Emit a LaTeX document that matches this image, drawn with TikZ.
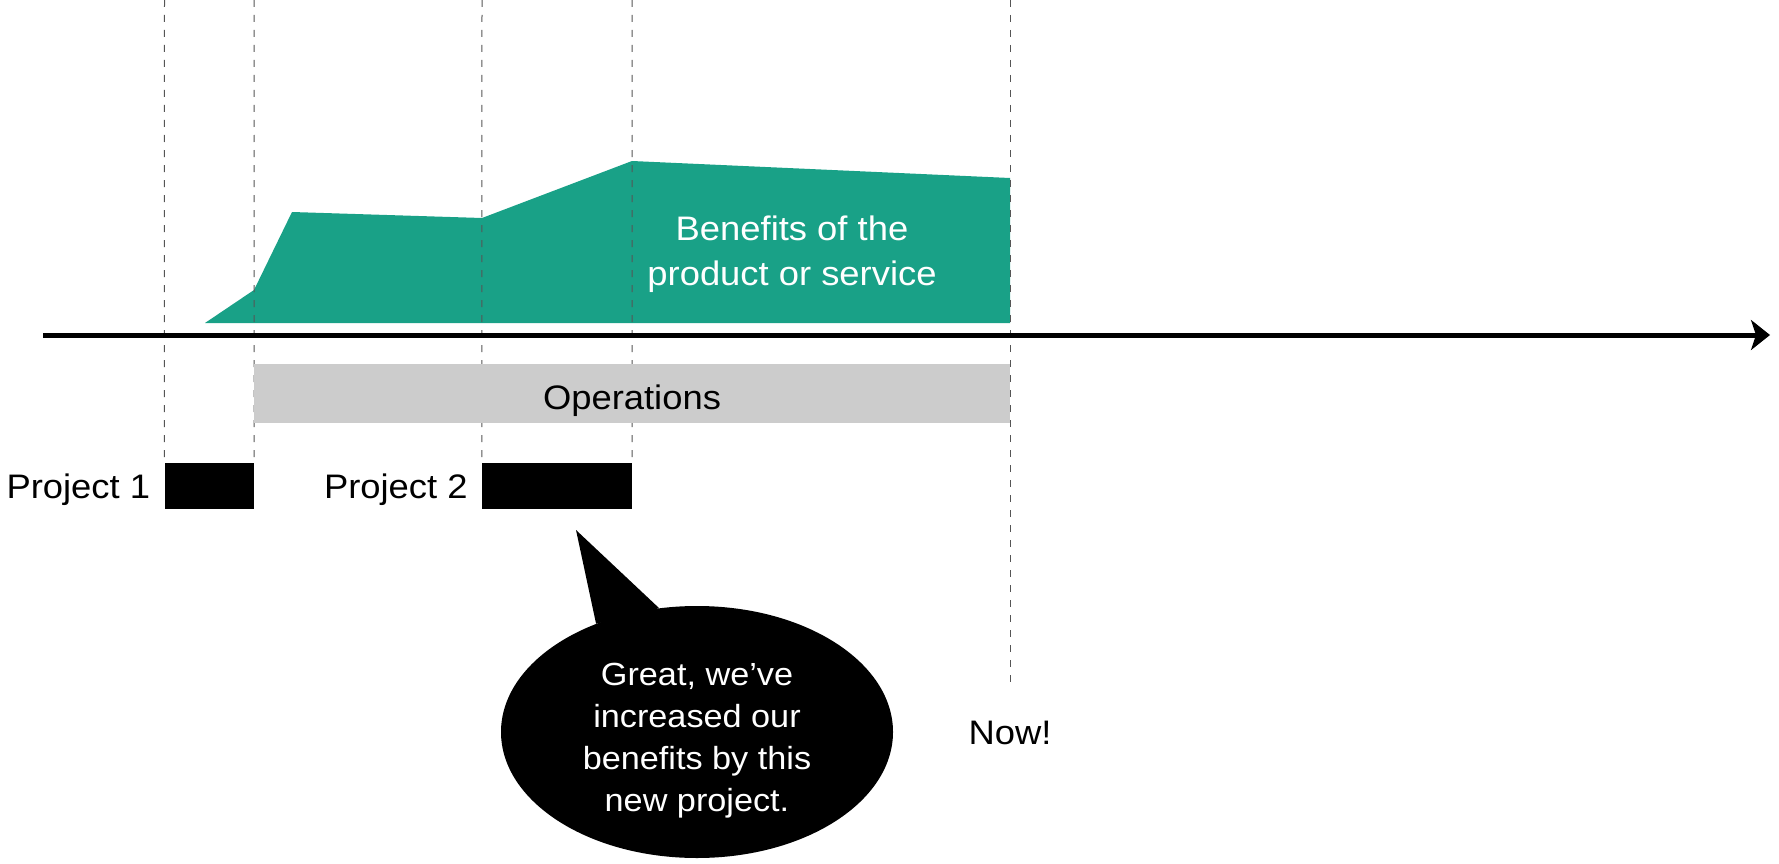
\documentclass[tikz,border=0pt]{standalone}
\usepackage{fontspec}
\setmainfont{Liberation Sans}[FakeStretch=1.07]
\usetikzlibrary{arrows.meta,positioning,shapes.geometric}
\definecolor{benefitgreen}{HTML}{19A187}
\definecolor{opsgray}{HTML}{CCCCCC}
\definecolor{guidegray}{HTML}{555555}
\tikzset{
  guide/.style={guidegray, line width=1pt, dash pattern=on 7pt off 8pt},
  projbox/.style={fill=black, minimum height=46pt, inner sep=0pt},
  projlabel/.style={inner sep=0pt, text depth=0pt, left=14pt of #1},
  timeline/.style={line width=5pt, -{Stealth[length=19pt,width=30pt,inset=5pt]}}
}
\begin{document}
\begin{tikzpicture}[x=1pt, y=-1pt, font=\fontsize{34}{45}\selectfont]
        \useasboundingbox (0,0) rectangle (1779,864);

        % Benefits
        \fill[benefitgreen] (205,323) -- (254,290) -- (292,212) -- (482,218)
            -- (632,161) -- (1010,178) -- (1010,323) -- cycle;
        \node[white, align=center] (benefits) at (792,254) {Benefits of the\\product or service};

        % Projects
        \node[projbox, minimum width=89.5pt] (proj1) at (209.25,486) {};
        \node[projbox, minimum width=150pt] (proj2) at (557,486) {};
        \node[projlabel=proj1] (lab1) {Project 1};
        \node[projlabel=proj2] (lab2) {Project 2};

        % Guides
        \coordinate (top1) at (164.5,0);
        \coordinate (top2) at (254,0);
        \coordinate (top3) at (482,0);
        \coordinate (top4) at (632,0);
        \coordinate (top5) at (1010,0);
        \coordinate (nowend) at (1010,684);
        \draw[guide] (top1) -- (proj1.north west);
        \draw[guide] (top2) -- (proj1.north east);
        \draw[guide] (top3) -- (proj2.north west);
        \draw[guide] (top4) -- (proj2.north east);
        \draw[guide] (top5) -- (nowend);
        \node (now) at (1010,733) {Now!};

        % Operations
        \node[fill=opsgray, minimum width=756pt, minimum height=59pt, inner sep=0pt,
              text height=31pt, text depth=0pt] (ops) at (632,393.5) {Operations};

        % Time axis
        \coordinate (axstart) at (43,335);
        \coordinate (axend) at (1770,335);
        \draw[timeline] (axstart) -- (axend);

        % Speech bubble
        \node[ellipse, fill=black, text=white, align=center, inner sep=0pt,
              minimum width=392pt, minimum height=252pt,
              font=\fontsize{32}{42}\selectfont] (bubble) at (697,732)
              {\rule{0pt}{40pt}Great, we’ve\\increased our\\benefits by this\\new project.};
        \coordinate (tailtip) at (576,530);
        \fill[black] (tailtip) -- (bubble.133) -- (bubble.107) -- cycle;
    \end{tikzpicture}
\end{document}
